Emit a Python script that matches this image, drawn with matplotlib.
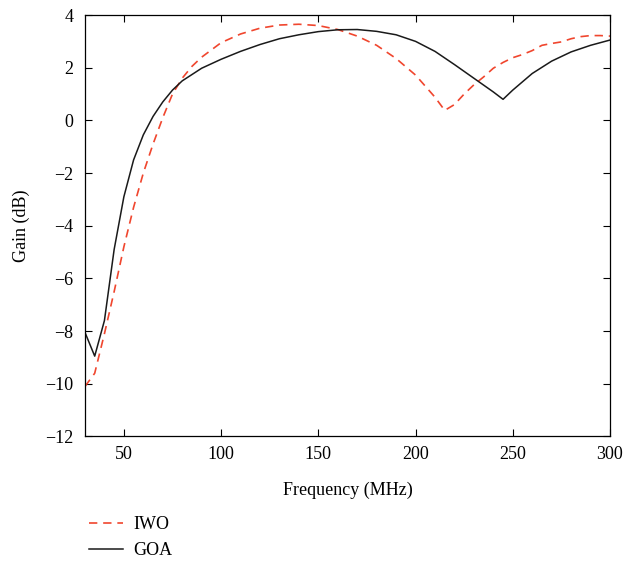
import matplotlib
matplotlib.use("Agg")
import matplotlib.pyplot as plt

plt.rcParams['font.family'] = ['Liberation Serif', 'DejaVu Serif']

freq_goa = [30, 35, 40, 45, 50, 55, 60, 65, 70, 75, 80, 90, 100, 110, 120, 130, 140,
            150, 160, 170, 180, 190, 200, 210, 220, 230, 240, 245, 250, 260, 270,
            280, 290, 300]
gain_goa = [-8.05, -8.95, -7.6, -4.9, -2.9, -1.5, -0.55, 0.15, 0.7, 1.15, 1.5, 1.98,
            2.32, 2.62, 2.88, 3.1, 3.25, 3.37, 3.44, 3.45, 3.38, 3.25, 3.0, 2.62,
            2.12, 1.6, 1.08, 0.8, 1.15, 1.78, 2.25, 2.6, 2.85, 3.05]

freq_iwo = [30, 35, 40, 45, 50, 55, 60, 65, 70, 75, 80, 85, 90, 100, 110, 120, 130,
            140, 150, 160, 170, 180, 190, 200, 210, 215, 220, 225, 230, 235, 240,
            245, 250, 255, 260, 265, 270, 275, 280, 285, 290, 295, 300]
gain_iwo = [-10.1, -9.6, -8.1, -6.5, -4.8, -3.3, -2.0, -0.9, 0.1, 1.0, 1.6, 2.05,
            2.4, 2.95, 3.28, 3.5, 3.62, 3.65, 3.6, 3.45, 3.2, 2.85, 2.35, 1.72,
            0.88, 0.38, 0.6, 1.0, 1.35, 1.65, 1.98, 2.2, 2.38, 2.5, 2.65, 2.85,
            2.92, 2.98, 3.1, 3.18, 3.22, 3.22, 3.2]

fig = plt.figure(figsize=(6.38, 5.67), dpi=100)
ax = fig.add_axes([0.1332, 0.2302, 0.8229, 0.7433])

l1, = ax.plot(freq_iwo, gain_iwo, color='#f0462e', lw=1.2, ls=(0, (5, 3.5)), label='IWO')
l2, = ax.plot(freq_goa, gain_goa, color='#1a1a1a', lw=1.1, label='GOA')

ax.set_xlim(30, 300)
ax.set_ylim(-12, 4)
ax.set_xticks([50, 100, 150, 200, 250, 300])
ax.set_yticks(range(-12, 5, 2))
ax.tick_params(direction='in', top=True, right=True, labelsize=13, length=5, width=0.8)
ax.tick_params(axis='y', pad=8.5)
ax.tick_params(axis='x', pad=7)
ax.set_xlabel('Frequency (MHz)', fontsize=13, labelpad=13)
ax.set_ylabel('Gain (dB)', fontsize=13, labelpad=11)
for s in ax.spines.values():
    s.set_linewidth(0.9)

fig.legend(handles=[l1, l2], loc='upper left', bbox_to_anchor=(0.128, 0.102), frameon=False,
           fontsize=13, handlelength=1.9, handletextpad=0.55, labelspacing=0.5,
           borderaxespad=0)

fig.savefig('out.png', dpi=100)
